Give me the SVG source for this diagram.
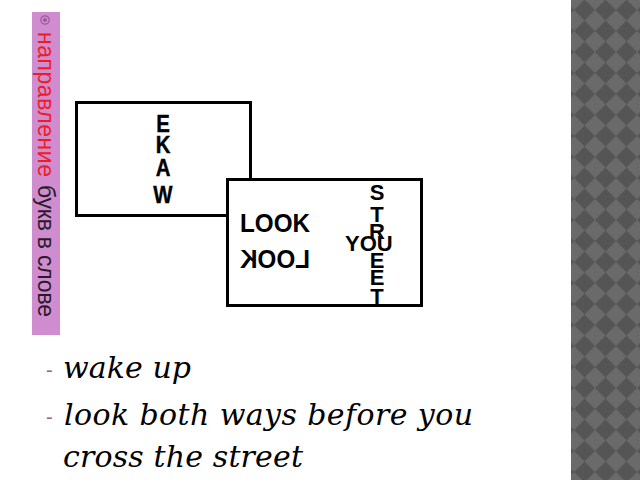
<svg xmlns="http://www.w3.org/2000/svg" width="640" height="480" viewBox="0 0 640 480">
<defs>
<pattern id="diam" x="574" y="-0.5" width="21" height="21" patternUnits="userSpaceOnUse">
<rect width="21" height="21" fill="#6a6a6a"/>
<polygon points="10.5,0 21,10.5 10.5,21 0,10.5" fill="#555555"/>
</pattern>
<style>
.box{fill:#fff;stroke:#000;stroke-width:3}
.big{font-family:"Liberation Sans",Arial,sans-serif;font-weight:bold;fill:#000}
.ital{font-family:"DejaVu Serif",serif;font-style:italic;font-size:30px;fill:#000}
.dash{font-family:"Liberation Sans",sans-serif;font-size:20px;fill:#a0608a}
.side{font-family:"Liberation Sans",Arial,sans-serif;font-size:23px}
</style>
</defs>
<rect width="640" height="480" fill="#fff"/>
<rect x="571" y="0" width="69" height="480" fill="url(#diam)"/>
<g id="sidebar">
<rect x="32" y="12" width="28" height="323" fill="#cf8ccf"/>
<circle cx="45" cy="20" r="4.2" fill="none" stroke="#9a5a9a" stroke-width="1.2"/>
<circle cx="45" cy="20" r="2" fill="#9a5a9a"/>
<g transform="translate(38,0) rotate(90)">
<text class="side" x="32" y="0" fill="#ee1c24" textLength="145">направление</text>
<text class="side" x="185" y="0" fill="#2a1a2a" textLength="132">букв в слове</text>
</g>
</g>
<g id="card1">
<rect class="box" x="76.5" y="102.5" width="174" height="113"/>
<g class="big" font-size="24" text-anchor="middle" stroke="#000" stroke-width="0.4">
<text x="163" y="132" transform="translate(163,0) scale(0.85,1) translate(-163,0)">E</text>
<text x="163" y="153" transform="translate(163,0) scale(0.85,1) translate(-163,0)">K</text>
<text x="163" y="176" transform="translate(163,0) scale(0.85,1) translate(-163,0)">A</text>
<text x="163" y="203" transform="translate(163,0) scale(0.85,1) translate(-163,0)">W</text>
</g>
</g>
<g id="card2">
<rect class="box" x="227.5" y="179.5" width="194" height="126"/>
<text class="big" x="240" y="232" font-size="25" textLength="70" lengthAdjust="spacingAndGlyphs">LOOK</text>
<text class="big" transform="translate(550,0) scale(-1,1)" x="240" y="268" font-size="25" textLength="70" lengthAdjust="spacingAndGlyphs">LOOK</text>
<g class="big" font-size="22" text-anchor="middle">
<text x="377" y="200">S</text>
<text x="377" y="222">T</text>
<text x="377" y="239">R</text>
<text x="377" y="268">E</text>
<text x="377" y="285">E</text>
<text x="377" y="304">T</text>
</g>
<text class="big" x="345" y="251" font-size="22">YOU</text>
</g>
<g id="list">
<text class="dash" x="46" y="377">-</text>
<text class="dash" x="46" y="424">-</text>
<text class="ital" x="63" y="378" textLength="128">wake up</text>
<text class="ital" x="64" y="425" textLength="409">look both ways before you</text>
<text class="ital" x="63" y="467" textLength="240">cross the street</text>
</g>
</svg>
